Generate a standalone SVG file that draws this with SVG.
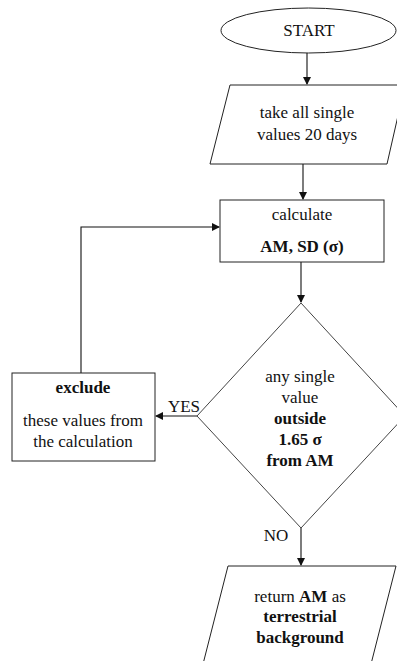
<svg xmlns="http://www.w3.org/2000/svg" width="397" height="661" viewBox="0 0 397 661">
<style>
.s{fill:#fff;stroke:#222;stroke-width:1}
.d{fill:#fff;stroke:#444;stroke-width:1}
.c{fill:none;stroke:#111;stroke-width:1.1}
text{font-family:Liberation Serif, serif;font-size:17px;fill:#111;text-anchor:middle}
.b{font-weight:bold}
</style>
<defs>
<marker id="ah" markerWidth="8" markerHeight="8" refX="7" refY="4" orient="auto" markerUnits="userSpaceOnUse">
<path d="M0,0 L8,4 L0,8 Z" fill="#111"/>
</marker>
</defs>
<rect width="397" height="661" fill="#fff"/>
<g id="connectors">
<line class="c" x1="307" y1="53" x2="307" y2="84" marker-end="url(#ah)"/>
<line class="c" x1="303" y1="164" x2="303" y2="199" marker-end="url(#ah)"/>
<line class="c" x1="301" y1="262" x2="301" y2="302" marker-end="url(#ah)"/>
<line class="c" x1="197" y1="416" x2="156" y2="416" marker-end="url(#ah)"/>
<polyline class="c" points="81,373 81,227 219,227" marker-end="url(#ah)"/>
<line class="c" x1="301" y1="528" x2="301" y2="565" marker-end="url(#ah)"/>
<text x="184" y="412">YES</text>
<text x="276" y="541">NO</text>
</g>
<g id="start">
<ellipse class="s" cx="308.5" cy="30.5" rx="87.5" ry="22.5"/>
<text x="309" y="36">START</text>
</g>
<g id="take">
<polygon class="s" points="230,85 405,85 387,164 210,164"/>
<text x="307" y="118">take all single</text>
<text x="307" y="140">values 20 days</text>
</g>
<g id="calculate">
<rect class="s" x="220" y="200" width="164" height="62"/>
<text x="302" y="220">calculate</text>
<text x="302" y="252" class="b">AM, SD (σ)</text>
</g>
<g id="decision">
<polygon class="d" points="301,303 405,416 301,528 197,416"/>
<text x="300" y="382">any single</text>
<text x="300" y="403">value</text>
<text x="300" y="424" class="b">outside</text>
<text x="300" y="445" class="b">1.65 σ</text>
<text x="300" y="466" class="b">from AM</text>
</g>
<g id="exclude">
<rect class="s" x="12" y="373" width="143" height="88"/>
<text x="83" y="393" class="b">exclude</text>
<text x="83" y="426">these values from</text>
<text x="83" y="447">the calculation</text>
</g>
<g id="return">
<polygon class="s" points="228,566 396,566 369.5,670 201.5,670"/>
<text x="300" y="602">return <tspan class="b">AM</tspan> as</text>
<text x="300" y="622" class="b">terrestrial</text>
<text x="300" y="643" class="b">background</text>
</g>
</svg>
